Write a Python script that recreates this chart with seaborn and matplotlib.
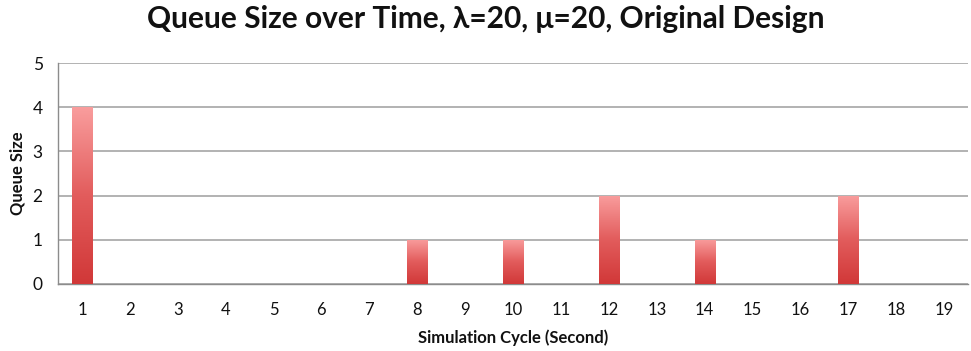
import numpy as np
import pandas as pd
import matplotlib
matplotlib.use("Agg")
import matplotlib.pyplot as plt
from matplotlib.colors import LinearSegmentedColormap
from matplotlib.ticker import FixedLocator
import seaborn as sns

cycles = [str(i) for i in range(1, 20)]
queue_size = [4, 0, 0, 0, 0, 0, 0, 1, 0, 1, 0, 2, 0, 1, 0, 0, 2, 0, 0]

sns.set_theme(style="white")
plt.rcParams["font.family"] = ["Lato", "DejaVu Sans"]

df = pd.DataFrame({"cycle": cycles, "size": queue_size})

fig = plt.figure(figsize=(9.71, 3.51), dpi=100)
ax = fig.add_axes([0.0597, 0.191, 0.9373, 0.6295])

sns.barplot(data=df, x="cycle", y="size", ax=ax, width=0.42,
            color="#e05050", linewidth=0, zorder=3)

# Vertical gradient fill for each bar (light pink top, deeper red bottom)
grad_cmap = LinearSegmentedColormap.from_list("bar", ["#d13838", "#e25c5c", "#f99d9d"])
grad = np.linspace(0, 1, 256).reshape(-1, 1)
for p in ax.patches:
    h = p.get_height()
    if h <= 0:
        continue
    x0 = p.get_x()
    w = p.get_width()
    im = ax.imshow(grad, cmap=grad_cmap, origin="lower", aspect="auto",
                   extent=[x0, x0 + w, 0, h], zorder=3, interpolation="bilinear")
    im.set_clip_path(p)
    p.set_facecolor("none")

ax.set_xlim(-0.5, len(cycles) - 0.5)
ax.set_ylim(0, 5)
ax.set_yticks(range(0, 6))
ax.yaxis.grid(True, color="#a6a6a6", linewidth=1.2, zorder=0)
ax.set_axisbelow(True)

for s in ["top", "right"]:
    ax.spines[s].set_visible(False)
for s in ["left", "bottom"]:
    ax.spines[s].set_color("#8c8c8c")
    ax.spines[s].set_linewidth(1.0)

# Ticks at category boundaries on x, labels centered
ax.xaxis.set_minor_locator(FixedLocator(np.arange(-0.5, len(cycles), 1.0)))
ax.tick_params(axis="x", which="major", length=0, labelsize=12, pad=13, colors="#111111")
ax.tick_params(axis="x", which="minor", length=5, width=1, color="#8c8c8c", direction="out")
ax.tick_params(axis="y", which="major", length=5, width=1, color="#8c8c8c",
               direction="out", labelsize=12.5, pad=6, colors="#111111")

ax.set_xlabel("Simulation Cycle (Second)", fontsize=12, fontweight="bold",
              labelpad=8, color="#111111")
ax.set_ylabel("Queue Size", fontsize=12, fontweight="bold", labelpad=5, color="#111111")

fig.suptitle("Queue Size over Time, λ=20, μ=20, Original Design",
             fontsize=21.5, fontweight="bold", y=0.985, color="#111111")

fig.savefig("out.png", dpi=100)
